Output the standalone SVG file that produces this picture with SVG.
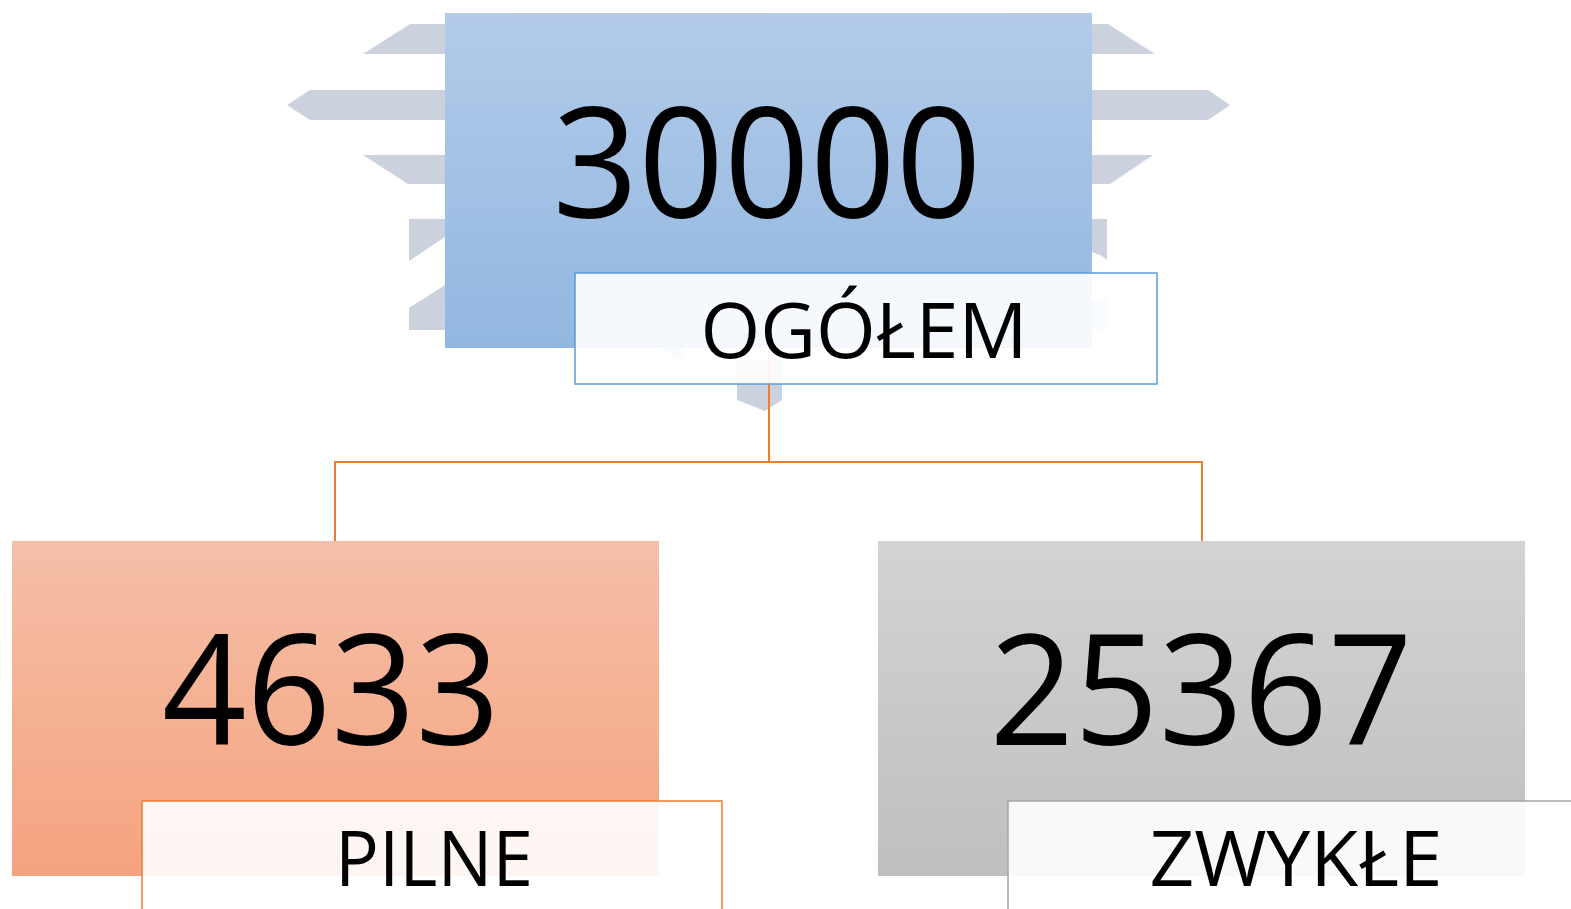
<svg xmlns="http://www.w3.org/2000/svg" width="1571" height="909" viewBox="0 0 1571 909">
<defs>
<linearGradient id="gBlue" x1="0" y1="0" x2="0" y2="1"><stop offset="0" stop-color="#b3cbe9"/><stop offset="1" stop-color="#92b7e1"/></linearGradient>
<linearGradient id="gOrange" x1="0" y1="0" x2="0" y2="1"><stop offset="0" stop-color="#f5bfa8"/><stop offset="1" stop-color="#f5a37f"/></linearGradient>
<linearGradient id="gGray" x1="0" y1="0" x2="0" y2="1"><stop offset="0" stop-color="#d3d3d3"/><stop offset="1" stop-color="#bfbfbf"/></linearGradient>
<style>
.deco{fill:#ccd2dd}
.num{font-family:"Open Sans","Liberation Sans",sans-serif;font-size:154px;fill:#000;text-anchor:middle}
.lbl{font-family:"Open Sans","Liberation Sans",sans-serif;font-size:77px;fill:#000;text-anchor:middle}
.lab{fill:#fff;fill-opacity:0.9;stroke-width:1.5}
.conn{fill:none;stroke:#ed7d31;stroke-width:2}
</style>
</defs>
<rect width="1571" height="909" fill="#fff"/>
<g id="decoration">
<polygon class="deco" points="445,24 410,24 363,54 445,54"/>
<polygon class="deco" points="445,90 310,90 287,105 310,120 445,120"/>
<polygon class="deco" points="363,155 445,155 445,184 408,184"/>
<polygon class="deco" points="409,219 445,219 445,237 409,261"/>
<polygon class="deco" points="409,308 445,285 445,330 409,330"/>
<polygon class="deco" points="1092,24 1108,24 1155,54 1092,54"/>
<polygon class="deco" points="1092,90 1208,90 1230,105 1208,120 1092,120"/>
<polygon class="deco" points="1092,155 1153,155 1110,184 1092,184"/>
<polygon class="deco" points="1092,219 1107,219 1107,260 1100,255 1092,252"/>
<polygon class="deco" points="1092,300 1107,300 1107,330 1092,330"/>
<polygon class="deco" points="737,360 782,360 782,400 765,411 737,400"/>
<polygon class="deco" points="660,348 683,348 683,362"/>
</g>
<g id="connectors">
<path class="conn" d="M769,348 V462 M335,541 V462 H1202 V541"/>
</g>
<g id="node-ogolem">
<rect x="445" y="13" width="647" height="335" fill="url(#gBlue)"/>
<text class="num" x="767" y="218" textLength="429" lengthAdjust="spacingAndGlyphs">30000</text>
<rect class="lab" x="575" y="273" width="582" height="111" stroke="#5b9bd5"/>
<text class="lbl" x="864" y="358" textLength="327" lengthAdjust="spacingAndGlyphs">OGÓŁEM</text>
</g>
<g id="node-pilne">
<rect x="12" y="541" width="647" height="335" fill="url(#gOrange)"/>
<text class="num" x="331" y="745" textLength="338" lengthAdjust="spacingAndGlyphs">4633</text>
<rect class="lab" x="142" y="801" width="580" height="112" stroke="#ed7d31"/>
<text class="lbl" x="434" y="886" textLength="198" lengthAdjust="spacingAndGlyphs">PILNE</text>
</g>
<g id="node-zwykle">
<rect x="878" y="541" width="647" height="335" fill="url(#gGray)"/>
<text class="num" x="1201" y="745" textLength="423" lengthAdjust="spacingAndGlyphs">25367</text>
<rect class="lab" x="1008" y="801" width="580" height="112" stroke="#a5a5a5"/>
<text class="lbl" x="1296" y="886" textLength="293" lengthAdjust="spacingAndGlyphs">ZWYKŁE</text>
</g>
</svg>
